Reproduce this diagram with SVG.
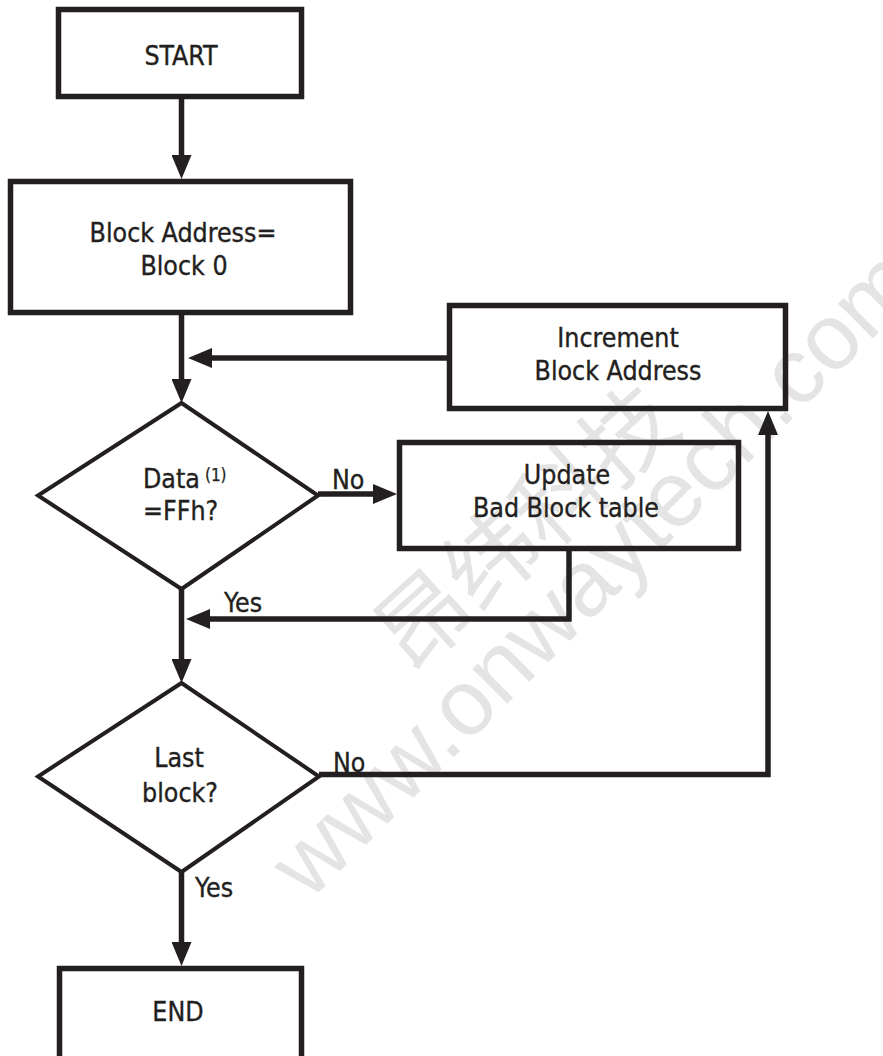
<svg xmlns="http://www.w3.org/2000/svg" width="883" height="1056" viewBox="0 0 883 1056">
  <defs>
    <style>
      .box { fill: none; stroke: #231f20; stroke-width: 5.5; }
      .dia { fill: none; stroke: #231f20; stroke-width: 4; stroke-linejoin: miter; }
      .conn { fill: none; stroke: #231f20; stroke-width: 5.5; stroke-linejoin: miter; marker-end: url(#ah); }
      .t { font-family: "DejaVu Sans Condensed", "DejaVu Sans", sans-serif; font-stretch: condensed; font-size: 26.5px; fill: #231f20; stroke: #231f20; stroke-width: 0.35px; }
      .c { text-anchor: middle; }
      .sup { font-size: 17px; stroke-width: 0.25px; }
      .wm { font-family: "Liberation Sans", Arial, sans-serif; font-size: 93px; fill: #e4e4e4; }
      .wmc { font-family: "Noto Sans CJK SC", sans-serif; font-size: 92px; fill: #e4e4e4; }
    </style>
    <marker id="ah" viewBox="0 0 24 20" refX="12" refY="10" markerWidth="24" markerHeight="20" markerUnits="userSpaceOnUse" orient="auto">
      <path d="M0,0 L24,10 L0,20 z" fill="#231f20"/>
    </marker>
  </defs>
  <rect x="0" y="0" width="883" height="1056" fill="#ffffff"/>

  <g id="watermark">
    <text class="wmc" transform="translate(411,675) rotate(-42)">昂纬科技</text>
    <text class="wm" transform="translate(309,902) rotate(-45)">www.onwaytech.com</text>
  </g>

  <g id="connectors">
    <path class="conn" d="M181.5,99 V167"/>
    <path class="conn" d="M181.5,314 V391"/>
    <path class="conn" d="M447,358 H200"/>
    <path class="conn" d="M318,494 H385"/>
    <path class="conn" d="M569,551 V619 H198"/>
    <path class="conn" d="M181.5,589 V671"/>
    <path class="conn" d="M319,774.5 H768 V423"/>
    <path class="conn" d="M181.5,872 V954"/>
  </g>

  <g id="start">
    <rect class="box" x="58.5" y="9.5" width="243" height="87"/>
    <text class="t c" x="181" y="65">START</text>
  </g>

  <g id="init">
    <rect class="box" x="10.5" y="181.5" width="340" height="131"/>
    <text class="t c" x="183" y="242">Block Address=</text>
    <text class="t c" x="184" y="275">Block 0</text>
  </g>

  <g id="increment">
    <rect class="box" x="449.5" y="305.5" width="336" height="103"/>
    <text class="t c" x="618" y="347">Increment</text>
    <text class="t c" x="618" y="380">Block Address</text>
  </g>

  <g id="check-data">
    <polygon class="dia" points="181.5,403 318,495.5 181.5,589 38,495.5"/>
    <text class="t" x="143" y="488">Data<tspan class="sup" dx="5" dy="-7">(1)</tspan></text>
    <text class="t" x="143" y="520">=FFh?</text>
  </g>

  <g id="update">
    <rect class="box" x="399.5" y="442.5" width="339" height="106"/>
    <text class="t c" x="567" y="484">Update</text>
    <text class="t c" x="566" y="517">Bad Block table</text>
  </g>

  <g id="check-last">
    <polygon class="dia" points="181.5,683 319,776.5 181.5,872 38,776.5"/>
    <text class="t c" x="179" y="767">Last</text>
    <text class="t c" x="180" y="802">block?</text>
  </g>

  <g id="end">
    <rect class="box" x="59.5" y="968.5" width="242" height="120"/>
    <text class="t c" x="178" y="1021">END</text>
  </g>

  <g id="labels">
    <text class="t" x="332" y="489">No</text>
    <text class="t" x="224" y="612">Yes</text>
    <text class="t" x="333" y="772">No</text>
    <text class="t" x="195" y="897">Yes</text>
  </g>
</svg>
